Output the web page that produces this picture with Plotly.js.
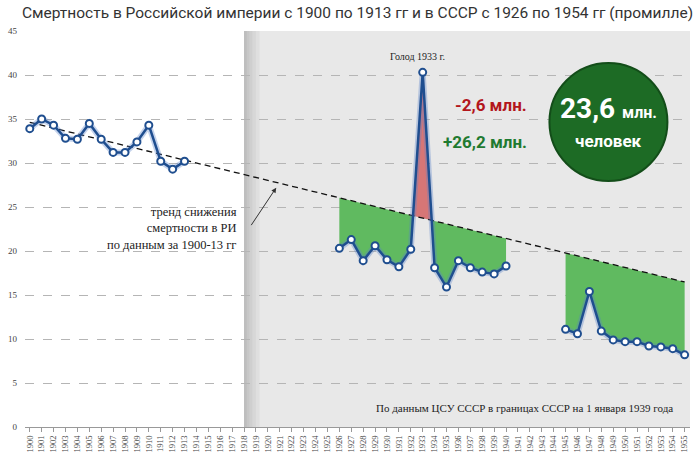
<!DOCTYPE html>
<html><head><meta charset="utf-8">
<script src="https://cdn.plot.ly/plotly-3.0.1.min.js"></script>
<style>html,body{margin:0;padding:0;background:#fff}#chart{width:700px;height:455px}</style>
</head><body><div id="chart"></div>
<script>
// ---- data (promille) ----
var yearsRI = [1900,1901,1902,1903,1904,1905,1906,1907,1908,1909,1910,1911,1912,1913];
var mortRI  = [33.9,35.0,34.3,32.8,32.7,34.5,32.7,31.2,31.2,32.4,34.3,30.2,29.3,30.2];
var yearsUSSR1 = [1926,1927,1928,1929,1930,1931,1932,1933,1934,1935,1936,1937,1938,1939,1940];
var mortUSSR1  = [20.3,21.3,18.9,20.6,19.0,18.2,20.2,40.3,18.1,15.9,18.9,18.1,17.6,17.4,18.3];
var yearsUSSR2 = [1945,1946,1947,1948,1949,1950,1951,1952,1953,1954,1955];
var mortUSSR2  = [11.1,10.6,15.4,10.9,9.9,9.7,9.7,9.2,9.1,8.9,8.2];
var tickYears = [1900,1901,1902,1903,1904,1905,1906,1907,1908,1909,1910,1911,1912,1913,1914,1915,1916,1917,1918,1919,1920,1921,1922,1923,1924,1925,1926,1927,1928,1929,1930,1931,1932,1933,1934,1935,1936,1937,1938,1939,1940,1941,1942,1943,1944,1945,1946,1947,1948,1949,1950,1951,1952,1953,1954,1955];
var tickLabels = tickYears.map(String);

var titleText = "Смертность в Российской империи с 1900 по 1913 гг и в СССР с 1926 по 1954 гг (промилле)";
var famineLabel = "Голод 1933 г.";
var lossLabel = "-2,6 млн.";
var gainLabel = "+26,2 млн.";
var totalNum = "23,6";
var totalUnit = "млн.";
var totalPeople = "человек";
var trendLabel = "тренд снижения<br>смертности в РИ<br>по данным за 1900-13 гг";
var sourceLabel = "По данным ЦСУ СССР в границах СССР на 1 января 1939 года";

// ---- linear trend fitted on 1900-1913 data ----
var n = yearsRI.length, mx = 0, my = 0;
for (var i = 0; i < n; i++) { mx += yearsRI[i]; my += mortRI[i]; }
mx /= n; my /= n;
var sxy = 0, sxx = 0;
for (i = 0; i < n; i++) { sxy += (yearsRI[i]-mx)*(mortRI[i]-my); sxx += (yearsRI[i]-mx)*(yearsRI[i]-mx); }
var slope = sxy/sxx, icpt = my - slope*mx;
function trend(x){ return icpt + slope*x; }

// polygons between data and trend
function band(xs, ys, useMax){
  var px = [], py = [];
  for (var k = 0; k < xs.length; k++) {
    var t = trend(xs[k]);
    px.push(xs[k]); py.push(useMax ? Math.max(ys[k], t) : Math.min(ys[k], t));
    if (k < xs.length-1) {
      var d0 = ys[k]-t, d1 = ys[k+1]-trend(xs[k+1]);
      if (d0*d1 < 0) {
        var f = d0/(d0-d1), xc = xs[k] + f*(xs[k+1]-xs[k]);
        px.push(xc); py.push(trend(xc));
      }
    }
  }
  var xl = xs[xs.length-1], xf = xs[0];
  px.push(xl, xf, xf); py.push(trend(xl), trend(xf), useMax ? Math.max(ys[0],trend(xf)) : Math.min(ys[0],trend(xf)));
  return {x: px, y: py};
}
var g1 = band(yearsUSSR1, mortUSSR1, false);
var r1 = band(yearsUSSR1, mortUSSR1, true);
var g2 = band(yearsUSSR2, mortUSSR2, false);

var GREEN = "rgb(96,186,96)", RED = "rgb(214,118,118)", BLUE = "#1f4e8f";
var traces = [];
[g1, g2].forEach(function(p){
  traces.push({x:p.x, y:p.y, type:"scatter", mode:"lines", fill:"toself", fillcolor:GREEN,
    line:{width:0, color:GREEN}, hoverinfo:"skip", showlegend:false});
});
traces.push({x:r1.x, y:r1.y, type:"scatter", mode:"lines", fill:"toself", fillcolor:RED,
  line:{width:0, color:RED}, hoverinfo:"skip", showlegend:false});
// trend line
traces.push({x:[1900,1955], y:[trend(1900), trend(1955)], type:"scatter", mode:"lines",
  line:{color:"#111", width:1.3, dash:"6px,4px"}, hoverinfo:"skip", showlegend:false});
// data series with halo
[[yearsRI,mortRI],[yearsUSSR1,mortUSSR1],[yearsUSSR2,mortUSSR2]].forEach(function(s){
  traces.push({x:s[0], y:s[1], type:"scatter", mode:"lines",
    line:{color:"rgba(90,130,200,0.35)", width:6}, hoverinfo:"skip", showlegend:false});
  traces.push({x:s[0], y:s[1], type:"scatter", mode:"lines+markers",
    line:{color:BLUE, width:2.5},
    marker:{size:7, color:"#fff", line:{color:BLUE, width:2}}, showlegend:false});
});

var shapes = [
  {type:"rect", xref:"x", yref:"paper", x0:1918, x1:1955.45, y0:0, y1:1, fillcolor:"#e8e8e8", line:{width:0}, layer:"below"}
];
[1.3,1.0,0.7,0.45,0.25,0.1].forEach(function(w){
  shapes.push({type:"rect", xref:"x", yref:"paper", x0:1918, x1:1918+w, y0:0, y1:1,
    fillcolor:"rgba(0,0,0,0.035)", line:{width:0}, layer:"below"});
});
shapes.push({type:"circle", xref:"x", yref:"y", xsizemode:"pixel", ysizemode:"pixel",
  xanchor:1948.6, yanchor:34.66, x0:-59, x1:59, y0:-59, y1:59,
  fillcolor:"#1d6b25", line:{color:"#134d19", width:2}, layer:"above"});

var SERIF = "Liberation Serif, Times New Roman, serif";
var SANS = "Roboto, Liberation Sans, sans-serif";
var annotations = [
  {text:famineLabel, x:1932.6, y:42.05, xref:"x", yref:"y", showarrow:false, yanchor:"middle",
   font:{family:SERIF, size:10, color:"#222"}},
  {text:"<b>"+lossLabel+"</b>", x:1938.7, y:36.6, xref:"x", yref:"y", showarrow:false,
   font:{family:SANS, size:17, color:"#b3161c"}},
  {text:"<b>"+gainLabel+"</b>", x:1938.2, y:32.4, xref:"x", yref:"y", showarrow:false,
   font:{family:SANS, size:17, color:"#1f7a30"}},
  {text:"<b>"+totalNum+"</b> <b><span style='font-size:16px'>"+totalUnit+"</span></b>", x:1948.6, y:36.2, xref:"x", yref:"y", showarrow:false,
   font:{family:SANS, size:28, color:"#fff"}},
  {text:"<b>"+totalPeople+"</b>", x:1948.6, y:32.5, xref:"x", yref:"y", showarrow:false,
   font:{family:SANS, size:17, color:"#fff"}},
  {text:trendLabel, x:1917.6, y:25.4, xref:"x", yref:"y", showarrow:false, xanchor:"right", yanchor:"top", align:"right",
   font:{family:SERIF, size:12.5, color:"#222"}},
  {text:"", x:1920.7, y:27.2, xref:"x", yref:"y", showarrow:true, ax:-26, ay:39,
   arrowhead:2, arrowsize:1, arrowwidth:1, arrowcolor:"#333"},
  {text:sourceLabel, x:1954.2, y:2.2, xref:"x", yref:"y", showarrow:false, xanchor:"right",
   font:{family:SERIF, size:11, color:"#222"}}
];

var layout = {
  width:700, height:455,
  margin:{l:25, r:10, t:31, b:28, pad:0},
  paper_bgcolor:"#fff", plot_bgcolor:"#fff",
  title:{text:titleText, x:0.5, xanchor:"center", xref:"paper", y:0.985, yanchor:"top",
    font:{family:SANS, size:15.5, color:"#333"}},
  xaxis:{range:[1899.6,1955.45], tickmode:"array", tickvals:tickYears, ticktext:tickLabels,
    tickangle:-90, ticks:"outside", ticklen:4, tickcolor:"#999", showgrid:false, zeroline:false,
    showline:true, linecolor:"#999", linewidth:1, automargin:false,
    tickfont:{family:SERIF, size:8.5, color:"#444"}, fixedrange:true},
  yaxis:{range:[0,45], dtick:5, showgrid:true, gridcolor:"#b5b5b5", griddash:"dash", gridwidth:1,
    zeroline:false, showline:false, ticks:"", automargin:false, ticklabelstandoff:7,
    tickfont:{family:SERIF, size:9, color:"#444"}, fixedrange:true},
  shapes:shapes, annotations:annotations, showlegend:false
};
Plotly.newPlot("chart", traces, layout, {staticPlot:true, displayModeBar:false});
</script></body></html>
